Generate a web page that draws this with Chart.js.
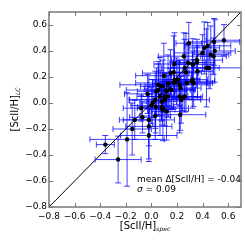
<!DOCTYPE html>
<html>
<head>
<meta charset="utf-8">
<script src="https://cdn.jsdelivr.net/npm/chart.js@4.4.1/dist/chart.umd.min.js"></script>
<style>
  html, body { margin: 0; padding: 0; background: #fff; }
  canvas { display: block; }
</style>
</head>
<body>
<canvas id="chart" width="245" height="245"></canvas>
<script>
// [ScII/H] spectroscopic vs light-curve values, with 1-sigma errors
var specX = [-0.36, -0.26, -0.19, -0.15, -0.13, -0.07, -0.08, -0.02, -0.02, -0.02,
             -0.03, 0.03, 0.00, 0.03, 0.04, 0.054, 0.067, 0.08, 0.09, 0.085,
             0.097, 0.054, 0.09, 0.105, 0.118, 0.144, 0.13, 0.15, 0.174, 0.18,
             0.177, 0.22, 0.225, 0.208, 0.22, 0.246, 0.233, 0.26, 0.26, 0.27,
             0.254, 0.285, 0.292, 0.323, 0.315, 0.32, 0.356, 0.36, 0.277, 0.40,
             0.413, 0.44, 0.43, 0.45, 0.464, 0.485, 0.495, 0.49, 0.567, 0.195,
             0.156, 0.075, 0.033, 0.01, 0.105, 0.118, 0.08, 0.13, 0.356, 0.33,
             0.228, 0.18];
var lcY = [-0.32, -0.435, -0.28, -0.20, -0.13, -0.11, -0.04, -0.25, -0.18, -0.13,
           0.07, -0.10, -0.02, 0.025, 0.09, 0.10, 0.05, 0.012, -0.04, -0.05,
           0.21, 0.14, 0.13, 0.025, 0.09, 0.107, 0.15, 0.23, 0.236, 0.30,
           0.154, 0.05, -0.09, 0.18, 0.14, 0.04, 0.025, 0.05, 0.27, 0.236,
           0.36, 0.31, 0.46, 0.295, 0.167, 0.18, 0.33, 0.244, 0.154, 0.385,
           0.424, 0.44, 0.27, 0.27, 0.372, 0.36, 0.40, 0.47, 0.483, 0.167,
           0.10, 0.128, -0.03, 0.0, 0.05, -0.065, -0.03, 0.05, 0.31, 0.154,
           0.115, 0.18];
var errX = [0.07, 0.18, 0.29, 0.15, 0.12, 0.10, 0.14, 0.22, 0.18, 0.20,
            0.18, 0.12, 0.16, 0.20, 0.15, 0.25, 0.18, 0.12, 0.20, 0.10,
            0.22, 0.30, 0.14, 0.28, 0.16, 0.20, 0.12, 0.22, 0.12, 0.16,
            0.30, 0.18, 0.20, 0.10, 0.24, 0.14, 0.22, 0.10, 0.18, 0.12,
            0.20, 0.14, 0.10, 0.16, 0.18, 0.12, 0.20, 0.12, 0.16, 0.22,
            0.12, 0.18, 0.10, 0.30, 0.14, 0.10, 0.16, 0.20, 0.14, 0.14,
            0.18, 0.16, 0.14, 0.10, 0.18, 0.12, 0.16, 0.10, 0.14, 0.10,
            0.16, 0.20];
var errY = [0.07, 0.18, 0.36, 0.20, 0.15, 0.12, 0.10, 0.20, 0.25, 0.20,
            0.15, 0.18, 0.14, 0.22, 0.18, 0.20, 0.30, 0.15, 0.25, 0.12,
            0.25, 0.18, 0.20, 0.20, 0.14, 0.16, 0.22, 0.18, 0.28, 0.24,
            0.12, 0.28, 0.12, 0.14, 0.16, 0.10, 0.18, 0.12, 0.22, 0.30,
            0.18, 0.14, 0.16, 0.20, 0.14, 0.22, 0.16, 0.20, 0.12, 0.14,
            0.20, 0.18, 0.30, 0.16, 0.22, 0.14, 0.24, 0.18, 0.12, 0.18,
            0.14, 0.12, 0.20, 0.18, 0.12, 0.22, 0.10, 0.16, 0.12, 0.18,
            0.10, 0.14];
var oneToOne = [-0.8, 0.7];
var tickVals = [-0.8, -0.6, -0.4, -0.2, 0.0, 0.2, 0.4, 0.6];
var statLines = ['mean \u0394[ScII/H] = -0.04', ' = 0.09'];

var FONT = 'DejaVu Sans';
var FRAME = '#777';

function fmt(v) {
    var s = Math.abs(v).toFixed(1);
    return v < -1e-9 ? '\u2212' + s : s;
}

// error bars drawn underneath the points
var errorBars = {
    id: 'errorBars',
    beforeDatasetsDraw: function(chart) {
        var c = chart.ctx, xs = chart.scales.x, ys = chart.scales.y, a = chart.chartArea;
        c.save();
        c.beginPath();
        c.rect(a.left, a.top, a.right - a.left, a.bottom - a.top);
        c.clip();
        c.strokeStyle = 'rgba(0,0,255,0.75)';
        c.lineWidth = 1;
        var cap = 3;
        for (var i = 0; i < specX.length; i++) {
            var px = xs.getPixelForValue(specX[i]);
            var py = ys.getPixelForValue(lcY[i]);
            var x0 = xs.getPixelForValue(specX[i] - errX[i]);
            var x1 = xs.getPixelForValue(specX[i] + errX[i]);
            var y0 = ys.getPixelForValue(lcY[i] - errY[i]);
            var y1 = ys.getPixelForValue(lcY[i] + errY[i]);
            c.beginPath();
            c.moveTo(x0, py); c.lineTo(x1, py);
            c.moveTo(x0, py - cap); c.lineTo(x0, py + cap);
            c.moveTo(x1, py - cap); c.lineTo(x1, py + cap);
            c.moveTo(px, y0); c.lineTo(px, y1);
            c.moveTo(px - cap, y0); c.lineTo(px + cap, y0);
            c.moveTo(px - cap, y1); c.lineTo(px + cap, y1);
            c.stroke();
        }
        c.restore();
    }
};

// frame, inward ticks, axis titles and stats text
var decor = {
    id: 'decor',
    afterDraw: function(chart) {
        var c = chart.ctx, xs = chart.scales.x, ys = chart.scales.y, a = chart.chartArea;
        c.save();
        c.strokeStyle = FRAME;
        c.lineWidth = 1.5;
        c.strokeRect(a.left, a.top, a.right - a.left, a.bottom - a.top);
        c.lineWidth = 1;
        var tl = 4;
        c.beginPath();
        tickVals.forEach(function(v) {
            var x = Math.round(xs.getPixelForValue(v)) + 0.5;
            c.moveTo(x, a.bottom); c.lineTo(x, a.bottom - tl);
            c.moveTo(x, a.top); c.lineTo(x, a.top + tl);
            var y = Math.round(ys.getPixelForValue(v)) + 0.5;
            c.moveTo(a.left, y); c.lineTo(a.left + tl, y);
            c.moveTo(a.right, y); c.lineTo(a.right - tl, y);
        });
        c.stroke();

        c.fillStyle = '#000';
        c.textBaseline = 'alphabetic';

        // x title
        c.font = '10px "' + FONT + '"';
        var main = '[ScII/H]';
        var wMain = c.measureText(main).width;
        c.font = 'italic 6px "' + FONT + '"';
        var wSub = c.measureText('spec').width;
        var cx = (a.left + a.right) / 2;
        var sx = cx - (wMain + wSub) / 2;
        c.font = '10px "' + FONT + '"';
        c.textAlign = 'left';
        c.fillText(main, sx, 229);
        c.font = 'italic 6px "' + FONT + '"';
        c.fillText('spec', sx + wMain, 231);

        // y title
        c.save();
        c.translate(18, (a.top + a.bottom) / 2);
        c.rotate(-Math.PI / 2);
        c.font = 'italic 6px "' + FONT + '"';
        var wSubY = c.measureText('LC').width;
        var sy = -(wMain + wSubY) / 2;
        c.font = '10px "' + FONT + '"';
        c.fillText(main, sy, 0);
        c.font = 'italic 6px "' + FONT + '"';
        c.fillText('LC', sy + wMain, 2);
        c.restore();

        // stats
        c.font = '9px "' + FONT + '"';
        c.fillText(statLines[0], 137, 182);
        c.font = 'italic 9px "' + FONT + '"';
        c.fillText('\u03c3', 137, 192);
        var ws = c.measureText('\u03c3').width;
        c.font = '9px "' + FONT + '"';
        c.fillText(statLines[1], 137 + ws, 192);
        c.restore();
    }
};

var points = specX.map(function(x, i) { return { x: x, y: lcY[i] }; });
var diag = oneToOne.map(function(v) { return { x: v, y: v }; });

function axisOpts(isX) {
    return {
        type: 'linear',
        min: -0.8,
        max: 0.7,
        afterBuildTicks: function(s) {
            s.ticks = tickVals.map(function(v) { return { value: v }; });
        },
        afterFit: function(s) {
            if (isX) s.height = 38; else s.width = 49;
        },
        ticks: {
            callback: fmt,
            autoSkip: false,
            maxRotation: 0,
            color: '#000',
            padding: isX ? 4 : 2,
            font: { family: FONT, size: 9 }
        },
        grid: { display: false, drawTicks: false },
        border: { display: false }
    };
}

var ctx = document.getElementById('chart').getContext('2d');
var myChart = new Chart(ctx, {
    type: 'scatter',
    data: {
        datasets: [
            {
                data: points,
                backgroundColor: '#000',
                borderWidth: 0,
                pointRadius: 2.2,
                order: 1
            },
            {
                type: 'line',
                data: diag,
                borderColor: '#000',
                borderWidth: 1,
                pointRadius: 0,
                fill: false,
                order: 2
            }
        ]
    },
    options: {
        responsive: false,
        animation: false,
        layout: { padding: { top: 12, right: 1, left: 0, bottom: 0 } },
        plugins: { legend: { display: false }, tooltip: { enabled: false } },
        scales: { x: axisOpts(true), y: axisOpts(false) }
    },
    plugins: [errorBars, decor]
});
</script>
</body>
</html>
